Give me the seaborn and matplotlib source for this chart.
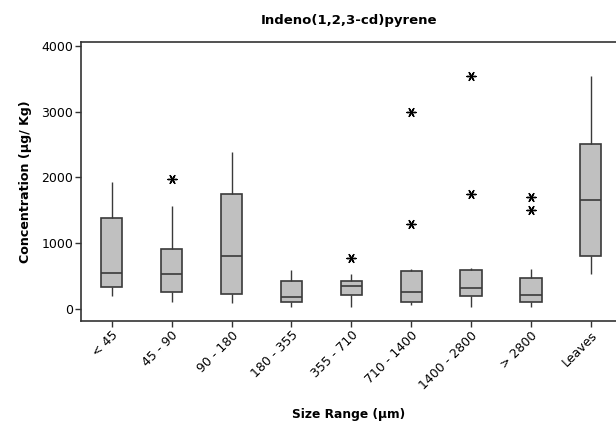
import numpy as np
import pandas as pd
import matplotlib
matplotlib.use("Agg")
import matplotlib.pyplot as plt
import seaborn as sns

# Size fractions and five-number summaries (µg/Kg)
categories = ["< 45", "45 - 90", "90 - 180", "180 - 355", "355 - 710",
              "710 - 1400", "1400 - 2800", "> 2800", "Leaves"]
whisker_low = [206, 116, 100, 30, 30, 65, 30, 30, 531]
q1 = [338, 267, 232, 106, 212, 106, 197, 106, 804]
median = [555, 540, 809, 182, 349, 267, 328, 217, 1654]
q3 = [1381, 920, 1745, 434, 434, 577, 596, 470, 2504]
whisker_high = [1927, 1568, 2392, 601, 531, 616, 627, 616, 3545]

# Outlying observations
outlier_cats = ["45 - 90", "355 - 710", "710 - 1400", "710 - 1400",
                "1400 - 2800", "1400 - 2800", "> 2800", "> 2800"]
outlier_vals = [1973, 774, 2998, 1290, 3540, 1745, 1709, 1507]

rows = []
for i, c in enumerate(categories):
    for v in (whisker_low[i], q1[i], median[i], q3[i], whisker_high[i]):
        rows.append({"size": c, "conc": v})
box_df = pd.DataFrame(rows)
out_df = pd.DataFrame({"size": outlier_cats, "conc": outlier_vals})

sns.set_style("ticks")
plt.rcParams["font.family"] = ["DejaVu Sans"]
plt.rcParams["text.color"] = "black"
plt.rcParams["axes.labelcolor"] = "black"
plt.rcParams["xtick.labelcolor"] = "black"
plt.rcParams["ytick.labelcolor"] = "black"

fig = plt.figure(figsize=(6.16, 4.23), dpi=100)
ax = fig.add_axes([0.1315, 0.2411, 0.8685, 0.6596])

edge = "#3a3a3a"
sns.boxplot(data=box_df, x="size", y="conc", order=categories,
            whis=(0, 100), width=0.355, color="#c0c0c0", saturation=1,
            linecolor=edge, linewidth=1.2, showcaps=False, fliersize=0,
            whiskerprops={"linewidth": 1.0}, ax=ax)

sns.stripplot(data=out_df, x="size", y="conc", order=categories,
              jitter=False, marker=(6, 2, 90), size=6.5, color="black",
              linewidth=1.0, ax=ax)

ax.set_xlim(-0.513, 8.42)
ax.set_ylim(-178, 4056)
ax.set_yticks([0, 1000, 2000, 3000, 4000])

for s in ["left", "bottom", "top"]:
    ax.spines[s].set_color("#333333")
    ax.spines[s].set_linewidth(1.2)
ax.spines["right"].set_visible(False)

ax.tick_params(axis="both", direction="out", length=4, width=1,
               color="#333333", labelsize=9, pad=1.5)
plt.setp(ax.get_xticklabels(), rotation=45, ha="right",
         rotation_mode="anchor")

ax.set_xlabel("Size Range (µm)", fontsize=8.8, fontweight="bold")
ax.set_ylabel("Concentration (µg/ Kg)", fontsize=9.1, fontweight="bold")
ax.xaxis.set_label_coords(0.5, -0.312)
ax.yaxis.set_label_coords(-0.092, 0.5)
ax.set_title("Indeno(1,2,3-cd)pyrene", fontsize=9.5, fontweight="bold",
             pad=13)

fig.savefig("out.png", dpi=100)
